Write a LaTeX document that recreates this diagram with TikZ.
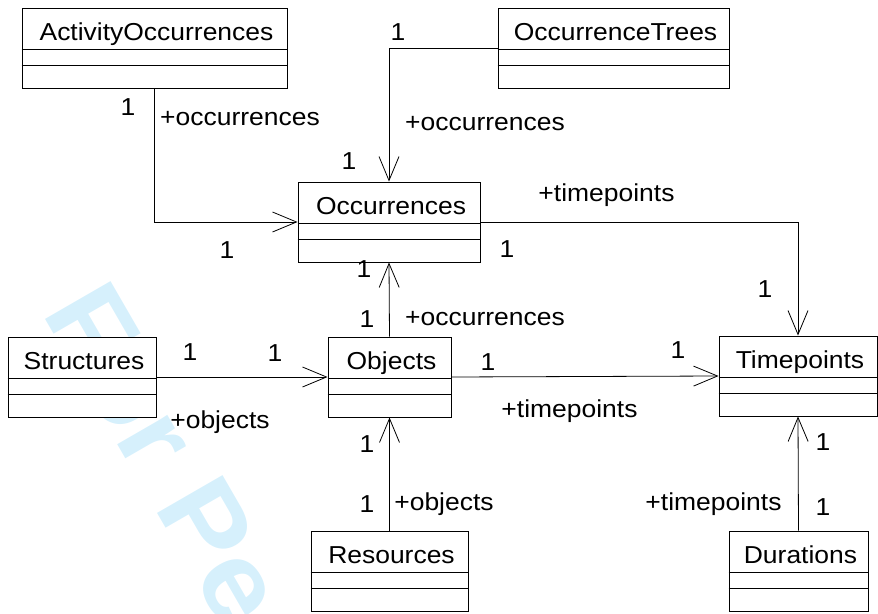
\documentclass[tikz,border=0pt]{standalone}
\usepackage{fontspec}
\setmainfont{Liberation Sans}[FakeStretch=1.08]
\usetikzlibrary{arrows.meta}
\definecolor{wm}{RGB}{214,240,252}
\newcommand\umlcls[5]{%
  \node[cls, minimum width=#4] (#1) at (#2,#3+40) {};
  \draw[divl] ([yshift=-42pt]#1.north west) -- ([yshift=-42pt]#1.north east);
  \draw[divl] ([yshift=-58pt]#1.north west) -- ([yshift=-58pt]#1.north east);
  \node[lbl] (#1-name) at ([xshift=2pt,yshift=-32.5pt]#1.north) {#5};
}
\begin{document}
\begin{tikzpicture}[x=1pt,y=-1pt,
  cls/.style={draw, fill=white, line width=0.9pt, inner sep=0pt, minimum height=80pt},
  divl/.style={line width=0.8pt},
  lbl/.style={anchor=base, inner sep=0pt, font=\fontsize{24.5}{28}\selectfont},
  assoc/.style={line width=0.8pt, -{Straight Barb[length=24pt,width=20pt,line width=0.8pt]}},
]
\useasboundingbox (0,0) rectangle (878,613);
\begin{scope}
  \clip (0,0) rectangle (878,613);
  \node[rotate=-60, anchor=base west, text=wm, inner sep=0pt,
        font=\fontsize{110}{110}\selectfont\bfseries] (wmark) at (41,312) {For Peer Review};
\end{scope}

\umlcls{ao}{154.5}{8}{265pt}{ActivityOccurrences}
\umlcls{ot}{613.5}{8}{231pt}{OccurrenceTrees}
\umlcls{occ}{389}{182}{182pt}{Occurrences}
\umlcls{str}{82}{337}{148pt}{Structures}
\umlcls{obj}{389.5}{337}{123pt}{Objects}
\umlcls{tp}{798}{336}{158pt}{Timepoints}
\umlcls{res}{389.5}{531}{157pt}{Resources}
\umlcls{dur}{798.5}{531}{139pt}{Durations}

\draw[assoc] (ao.south) |- (occ.west);
\draw[assoc] (ot.west) -| (occ.north);
\draw[assoc] (occ.east) -| (tp.north);
\draw[assoc] (obj.north) -- (occ.south);
\draw[assoc] (str.east) -- (obj.west);
\draw[assoc] (obj.east) -- (tp.west);
\draw[assoc] (res.north) -- (obj.south);
\draw[assoc] (dur.north) -- (tp.south);

\node[lbl] (l1) at (128,115) {1};
\node[lbl] (l2) at (240,125) {+occurrences};
\node[lbl] (l3) at (227,258) {1};
\node[lbl] (l4) at (398,40) {1};
\node[lbl] (l5) at (485,130) {+occurrences};
\node[lbl] (l6) at (349,169) {1};
\node[lbl] (l7) at (606.5,201) {+timepoints};
\node[lbl] (l8) at (507,257) {1};
\node[lbl] (l9) at (765,297) {1};
\node[lbl] (l10) at (364,277) {1};
\node[lbl] (l11) at (367,327) {1};
\node[lbl] (l12) at (485,325) {+occurrences};
\node[lbl] (l13) at (190,360) {1};
\node[lbl] (l14) at (275,361) {1};
\node[lbl] (l15) at (220,428) {+objects};
\node[lbl] (l16) at (488,370) {1};
\node[lbl] (l17) at (678,358) {1};
\node[lbl] (l18) at (569.5,417) {+timepoints};
\node[lbl] (l19) at (367,452) {1};
\node[lbl] (l20) at (367,512) {1};
\node[lbl] (l21) at (444,510) {+objects};
\node[lbl] (l22) at (823,450) {1};
\node[lbl] (l23) at (823,515) {1};
\node[lbl] (l24) at (713.5,510) {+timepoints};
\end{tikzpicture}
\end{document}
